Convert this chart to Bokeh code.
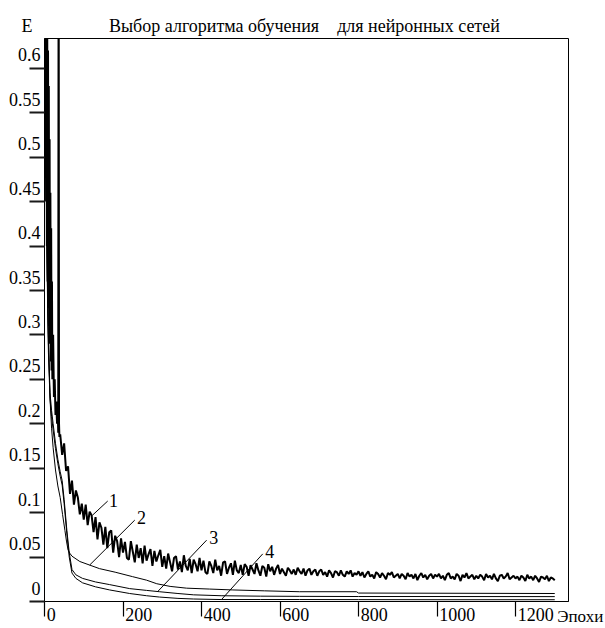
from bokeh.plotting import figure
from bokeh.models import Range1d, LinearAxis, FixedTicker, CustomJSTickFormatter
from bokeh.core.properties import value
from bokeh.embed import file_html
from bokeh.resources import INLINE

# ---------------- data ----------------
title_text = "Выбор алгоритма обучения\u00a0\u00a0\u00a0 для нейронных сетей"
x_name = "Эпохи"
y_name = "E"

y_ticks = [0, 0.05, 0.1, 0.15, 0.2, 0.25, 0.3, 0.35, 0.4, 0.45, 0.5, 0.55, 0.6]
x_ticks = [0, 200, 400, 600, 800, 1000, 1200]

# curve 1 (noisy)
epochs1 = [0, 1, 2, 3, 4, 5, 6, 7, 8, 9, 10, 11, 12, 13, 14, 15, 16, 17, 18, 19, 20,
           22, 24, 26, 28, 30, 32, 34, 35, 36, 37, 38] + list(range(40, 1301, 5))
err1 = [1.00, 0.90, 0.55, 0.75, 0.45, 0.68, 0.40, 0.64, 0.36, 0.62, 0.33,
        0.58, 0.31, 0.52, 0.29, 0.46, 0.27, 0.42, 0.26, 0.36, 0.25,
        0.30, 0.23, 0.25, 0.21, 0.225, 0.20, 0.21, 0.19, 0.80, 0.20, 0.185,
        # 40-100
        .188, .165, .178, .147, .152, .121, .136, .109, .125, .117, .098, .110, .092,
        # 105-200
        .109, .086, .101, .097, .078, .095, .070, .089, .083, .064, .084, .060, .078, .080, .055, .074, .068, .050, .071, .055,
        # 205-300
        .067, .049, .047, .068, .056, .044, .064, .049, .060, .043, .063, .046, .053, .059, .040, .057, .045, .052, .058, .039,
        # 305-400
        .051, .037, .054, .044, .034, .049, .051, .036, .045, .033, .052, .040, .035, .048, .032, .047, .042, .034, .049, .035,
        # 405-500
        .046, .033, .031, .045, .040, .032, .047, .035, .040, .029, .044, .045, .031, .038, .043, .030, .046, .035, .032, .041,
        # 505-600
        .030, .042, .039, .029, .041, .036, .031, .043, .035, .029, .040, .038, .028, .042, .034, .039, .030, .037, .041, .031,
        # 605-700
        .037, .033, .029, .038, .035, .031, .036, .030, .038, .034, .031, .037, .029, .035, .037, .030, .034, .036, .029, .034,
        # 705-800
        .036, .030, .033, .028, .035, .032, .027, .034, .033, .029, .035, .030, .028, .034, .031, .035, .028, .032, .030, .034,
        # 805-900
        .029, .033, .027, .031, .034, .028, .030, .026, .033, .031, .027, .032, .029, .025, .032, .030, .033, .027, .029, .031,
        # 905-1000
        .026, .031, .029, .025, .032, .028, .030, .026, .031, .024, .029, .032, .027, .030, .025, .029, .031, .026, .030, .028,
        # 1005-1100
        .031, .026, .029, .024, .030, .032, .026, .028, .025, .031, .029, .023, .030, .027, .032, .026, .028, .030, .025, .029,
        # 1105-1200
        .026, .030, .028, .024, .031, .027, .029, .025, .031, .026, .023, .029, .030, .026, .028, .032, .025, .027, .029, .026,
        # 1205-1300
        .028, .024, .029, .027, .023, .030, .026, .028, .024, .029, .026, .022, .028, .027, .025, .029, .023, .027, .026, .024]

# curve 2
epochs2 = [0, 2, 4, 6, 8, 10, 14, 18, 22, 28, 34, 40, 46, 52, 56, 60, 65, 70,
           90, 115, 140, 180, 224, 260, 286, 320, 362, 420, 480, 560, 650, 795, 800, 1300]
err2 = [0.95, 0.75, 0.55, 0.43, 0.35, 0.30, 0.229, 0.195, 0.173, 0.148, 0.130, 0.117,
        0.098, 0.080, 0.068, 0.058, 0.054, 0.051, 0.045, 0.041, 0.037, 0.033, 0.028, 0.024,
        0.020, 0.017, 0.015, 0.014, 0.013, 0.012, 0.011, 0.011, 0.0095, 0.009]

# curves 3 and 4
epochs34 = [0, 2, 4, 6, 8, 10, 14, 18, 22, 28, 34, 40, 45, 50, 57, 63, 70, 80,
            97, 130, 166, 217, 260, 293, 340, 380, 450, 550, 650, 800, 1000, 1300]
err3 = [0.90, 0.72, 0.53, 0.42, 0.34, 0.29, 0.235, 0.215, 0.20, 0.178, 0.160, 0.146,
        0.136, 0.115, 0.080, 0.055, 0.036, 0.030, 0.026, 0.022, 0.019, 0.0145, 0.0125, 0.011,
        0.009, 0.0075, 0.0065, 0.006, 0.0058, 0.0056, 0.0056, 0.0055]
err4 = [0.85, 0.68, 0.50, 0.40, 0.33, 0.28, 0.228, 0.208, 0.193, 0.172, 0.155, 0.141,
        0.131, 0.110, 0.076, 0.050, 0.032, 0.026, 0.021, 0.0165, 0.013, 0.009, 0.0065, 0.0050,
        0.0035, 0.0028, 0.0022, 0.0022, 0.0022, 0.0021, 0.0020, 0.0020]

# curve number labels and leader lines
num_text = ["1", "2", "3", "4"]
num_x = [176, 247, 431, 574]
num_y = [0.114, 0.094, 0.0715, 0.056]
lead_x0 = [161, 230, 413, 556]
lead_y0 = [0.113, 0.0916, 0.069, 0.0536]
lead_x1 = [122, 115, 288, 451]
lead_y1 = [0.097, 0.041, 0.011, 0.0022]

# where the x-axis name is attached (epoch)
x_name_at = [1300]

# ---------------- figure ----------------
X0, X1 = 0.0, 1335.0
Y0, Y1 = 0.0, 0.6335

SERIF = "Liberation Serif"
NARROW = "Liberation Sans Narrow"

p = figure(width=605, height=628, x_range=Range1d(X0, X1), y_range=Range1d(Y0, Y1),
           x_axis_type=None, y_axis_type=None,
           output_backend="svg", toolbar_location=None,
           min_border_left=44, min_border_right=37, min_border_top=38, min_border_bottom=23)
p.grid.visible = False
p.background_fill_color = "white"
p.border_fill_color = "white"
p.outline_line_color = "black"
p.outline_line_width = 1
p.outline_line_alpha = 1.0

# title line also carries the y-axis name "E" at the far left
p.title.text = y_name + "\u00a0" * 17 + title_text
p.title.text_font = SERIF
p.title.text_font_size = "18px"
p.title.text_font_style = "normal"
p.title.text_color = "black"
p.title.align = "left"
p.title.offset = -23
p.title.standoff = 6

# y axis: ticks out, labels lifted above the tick (two-line label, empty 2nd line)
yax = LinearAxis(ticker=FixedTicker(ticks=y_ticks),
                 formatter=CustomJSTickFormatter(code="return tick.toString() + '\\n\\u00a0';"),
                 major_tick_out=15, major_tick_in=0,
                 major_tick_line_color="#1a1a1a", major_tick_line_width=2,
                 minor_tick_line_color=None,
                 axis_line_color="black", axis_line_width=1,
                 major_label_standoff=-11, major_label_text_line_height=1.29,
                 major_label_text_font=NARROW, major_label_text_font_size="18px",
                 major_label_text_color="black")
p.add_layout(yax, "left")

# x axis: labels sit to the right of their ticks
pad_code = """
const ctx = document.createElement('canvas').getContext('2d');
ctx.font = "18px 'Liberation Sans Narrow'";
const s = tick.toString();
const w = ctx.measureText(s).width;
const h = ctx.measureText('\\u00a0').width;
const m = Math.max(0, Math.round((w + 6) / h));
return '\\u00a0'.repeat(m) + s;
"""
xax = LinearAxis(ticker=FixedTicker(ticks=x_ticks),
                 formatter=CustomJSTickFormatter(code=pad_code),
                 major_tick_out=15, major_tick_in=0,
                 major_tick_line_color="black", major_tick_line_width=1.2,
                 minor_tick_line_color=None,
                 axis_line_color="black", axis_line_width=1,
                 major_label_standoff=-12,
                 major_label_text_font=NARROW, major_label_text_font_size="18px",
                 major_label_text_color="black")
p.add_layout(xax, "below")

# x axis name "Эпохи", right of the last tick label
xname = LinearAxis(ticker=FixedTicker(ticks=x_name_at),
                   formatter=CustomJSTickFormatter(args=dict(name=x_name),
                                                   code="return '\\u00a0'.repeat(12) + name;"),
                   major_tick_out=0, major_tick_in=0, major_tick_line_color=None,
                   minor_tick_line_color=None, axis_line_color=None,
                   major_label_standoff=-21,
                   major_label_text_font=SERIF, major_label_text_font_size="17px",
                   major_label_text_color="black")
p.add_layout(xname, "below")

# curves
p.line(epochs34, err4, line_color="black", line_width=1)
p.line(epochs34, err3, line_color="black", line_width=1)
p.line(epochs2, err2, line_color="black", line_width=1)
p.line(epochs1, err1, line_color="black", line_width=2)

# number labels with leader lines
p.segment(x0=lead_x0, y0=lead_y0, x1=lead_x1, y1=lead_y1, line_color="black", line_width=1)
p.text(x=num_x, y=num_y, text=num_text, text_font=value(SERIF), text_font_size="18px",
       text_align="center", text_baseline="middle", text_color="black")

open("out.html", "w").write(file_html(p, INLINE))
